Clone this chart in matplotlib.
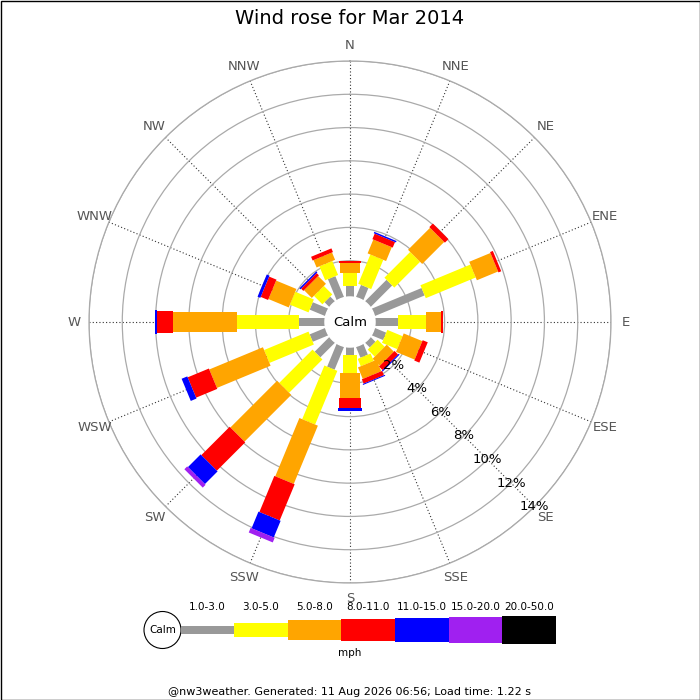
import numpy as np
import matplotlib
matplotlib.use('Agg')
import matplotlib.pyplot as plt
from matplotlib.patches import Circle, Rectangle

# wind rose, March 2014 - percent of time per direction and speed bin
directions = ['N', 'NNE', 'NE', 'ENE', 'E', 'ESE', 'SE', 'SSE',
              'S', 'SSW', 'SW', 'WSW', 'W', 'WNW', 'NW', 'NNW']
speed_bins = ['1.0-3.0', '3.0-5.0', '5.0-8.0', '8.0-11.0',
              '11.0-15.0', '15.0-20.0', '20.0-50.0']
bin_colors = ['#999999', '#ffff00', '#ffa500', '#ff0000',
              '#0000ff', '#a020f0', '#000000']

s_1_3 = [0.48, 0.63, 1.66, 3.07, 1.20, 0.57, 0.24, 0.54,
         0.30, 1.32, 1.08, 0.84, 1.37, 0.84, 0.24, 1.20]
s_3_5 = [0.77, 1.90, 2.19, 3.25, 1.69, 0.99, 0.60, 0.48,
         1.08, 3.49, 2.83, 2.89, 3.76, 1.21, 0.72, 0.91]
s_5_8 = [0.63, 0.90, 1.87, 1.38, 0.88, 1.21, 0.60, 0.75,
         1.51, 3.79, 3.97, 3.49, 3.82, 1.32, 0.66, 0.48]
s_8_11 = [0.12, 0.36, 0.30, 0.18, 0.16, 0.33, 0.30, 0.28,
          0.60, 2.35, 2.41, 1.38, 0.96, 0.48, 0.19, 0.24]
s_11_15 = [0.00, 0.09, 0.00, 0.00, 0.00, 0.00, 0.07, 0.06,
           0.18, 1.08, 1.08, 0.37, 0.14, 0.18, 0.09, 0.00]
s_15_20 = [0.00, 0.00, 0.00, 0.00, 0.00, 0.00, 0.00, 0.00,
           0.00, 0.30, 0.24, 0.00, 0.00, 0.00, 0.00, 0.00]
s_20_50 = [0.00] * 16

ring_pcts = [2, 4, 6, 8, 10, 12, 14]

series = [s_1_3, s_3_5, s_5_8, s_8_11, s_11_15, s_15_20, s_20_50]
bar_px = [8, 14, 20, 22, 24, 26, 28]   # bar thickness in pixels

PX = 16.62          # pixels per percent
R0 = 28 / PX        # offset of the 0% ring from centre
CALM = 25 / PX      # calm circle radius
BAR0 = CALM - R0    # bars start at the calm circle

fig = plt.figure(figsize=(7, 7), dpi=100)
fig.patch.set_facecolor('white')

cx, cy, rad = 350, 322, 261
ax = fig.add_axes([(cx - rad) / 700, (700 - cy - rad) / 700, 2 * rad / 700, 2 * rad / 700],
                  projection='polar')
ax.set_theta_zero_location('N')
ax.set_theta_direction(-1)
ax.set_ylim(-R0, 14)
ax.set_axisbelow(True)

thetas = np.deg2rad(np.arange(16) * 22.5)
ax.set_xticks(thetas)
ax.set_xticklabels([])
ax.set_yticks(ring_pcts)
ax.set_yticklabels([])
ax.xaxis.grid(True, color='#333333', linestyle=(0, (1, 2)), linewidth=0.8)
ax.yaxis.grid(True, color='#aaaaaa', linestyle='-', linewidth=0.9)
ax.spines['polar'].set_color('#aaaaaa')
ax.spines['polar'].set_linewidth(0.9)
ax.tick_params(length=0)

# stacked bars
for i, th in enumerate(thetas):
    r = 0.0
    for k, s in enumerate(series):
        v = s[i]
        if v <= 0:
            continue
        start = BAR0 if k == 0 else r
        ax.plot([th, th], [start, r + v], color=bin_colors[k], lw=bar_px[k] * 0.72,
                solid_capstyle='butt', zorder=3 + k * 0.01)
        r += v

# calm circle
tt = np.linspace(0, 2 * np.pi, 200)
ax.fill(tt, np.full_like(tt, BAR0), color='white', zorder=5)
ax.text(0, -R0, 'Calm', ha='center', va='center', fontsize=9.5, zorder=6)

# compass labels
for th, d in zip(thetas, directions):
    ax.text(th, (276 - 28) / PX, d, ha='center', va='center', fontsize=9.5,
            color='#555555', zorder=6)

# ring labels along SE
for p in ring_pcts:
    ax.text(np.deg2rad(135), p, '%d%%' % p, ha='center', va='center',
            fontsize=9.5, color='black', zorder=7)

# overlay axes in pixel coordinates for title, legend, footer
lg = fig.add_axes([0, 0, 1, 1], facecolor='none')
lg.set_xlim(0, 700)
lg.set_ylim(700, 0)
lg.axis('off')

lg.text(350, 18, 'Wind rose for Mar 2014', ha='center', va='center', fontsize=14)

lg.add_patch(Circle((162.5, 630), 18.5, facecolor='white', edgecolor='black', lw=0.8))
lg.text(162.5, 630, 'Calm', ha='center', va='center', fontsize=7.5)

x0, bw = 180.5, 53.65
lefts = x0 + bw * np.arange(len(speed_bins))
lg.bar(lefts, bar_px, width=bw, bottom=[630 - h / 2 for h in bar_px],
       color=bin_colors, align='edge')
for x, lab in zip(lefts, speed_bins):
    lg.text(x + bw / 2, 607, lab, ha='center', va='center', fontsize=7.5)
lg.text(350, 653, 'mph', ha='center', va='center', fontsize=7.5)

lg.text(350, 692, '@nw3weather. Generated: 11 Aug 2026 06:56; Load time: 1.22 s',
        ha='center', va='center', fontsize=8)

lg.add_patch(Rectangle((0.5, 0.5), 699, 699, fill=False, edgecolor='black', lw=1))

fig.savefig('out.png', dpi=100)
